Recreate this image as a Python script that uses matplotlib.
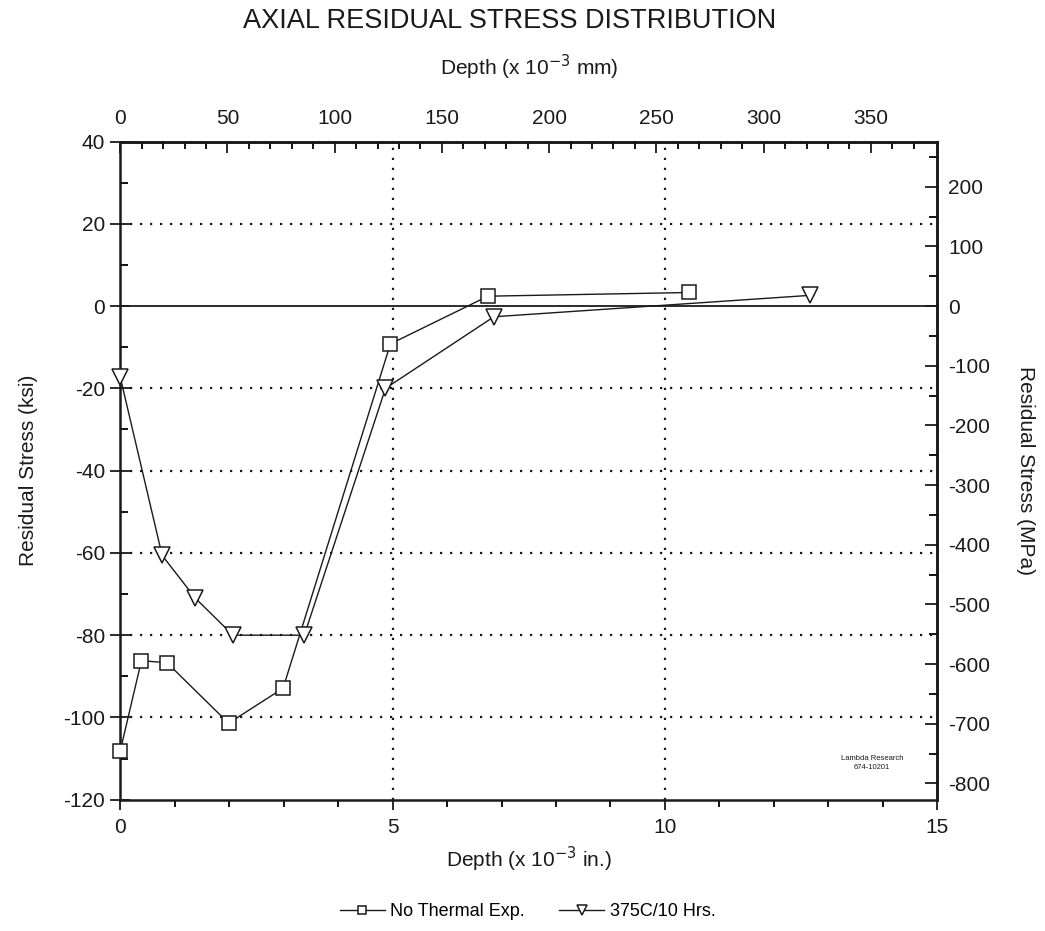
import matplotlib
matplotlib.use("Agg")
import matplotlib.pyplot as plt
import numpy as np
from matplotlib.ticker import MultipleLocator, FixedLocator

plt.rcParams["font.family"] = ["Liberation Sans", "DejaVu Sans"]
plt.rcParams["axes.unicode_minus"] = False

# Depth (x 10^-3 in.) and residual stress (ksi)
depth_nothermal = [0, 0.39, 0.86, 1.99, 2.99, 4.96, 6.75, 10.45]
stress_nothermal = [-108.2, -86.2, -86.7, -101.4, -92.9, -9.2, 2.4, 3.3]
depth_375 = [0, 0.77, 1.38, 2.07, 3.38, 4.87, 6.86, 12.66]
stress_375 = [-17.2, -60.6, -71.0, -80.0, -80.0, -20.0, -2.6, 2.6]

labels = ["No Thermal Exp.", "375C/10 Hrs."]
mm_ticks = [0, 50, 100, 150, 200, 250, 300, 350]
mpa_ticks = [-800, -700, -600, -500, -400, -300, -200, -100, 0, 100, 200]
ink = "#1a1a1a"

fig = plt.figure(figsize=(10.45, 9.31), dpi=100)
ax = fig.add_axes([0.115, 0.141, 0.782, 0.707])

ax.plot(depth_nothermal, stress_nothermal, color=ink, lw=1.0, marker="s",
        ms=10, mfc="white", mec=ink, mew=1.1, label=labels[0], zorder=3,
        clip_on=False)
ax.plot(depth_375, stress_375, color=ink, lw=1.0, marker="v",
        ms=12, mfc="white", mec=ink, mew=1.1, label=labels[1], zorder=3,
        clip_on=False)

ax.set_xlim(0, 15)
ax.set_ylim(-120, 40)

# dotted grid, solid zero line
for y in [20, -20, -40, -60, -80, -100]:
    ax.axhline(y, color=ink, lw=1.6, ls=(0, (1, 3.5)), zorder=1)
for x in [5, 10]:
    ax.axvline(x, color=ink, lw=1.6, ls=(0, (1, 3.5)), zorder=1)
ax.axhline(0, color=ink, lw=1.3, zorder=2)

ax.xaxis.set_major_locator(MultipleLocator(5))
ax.xaxis.set_minor_locator(MultipleLocator(1))
ax.yaxis.set_major_locator(MultipleLocator(20))
ax.yaxis.set_minor_locator(MultipleLocator(10))
ax.tick_params(axis="x", which="major", direction="out", length=7, width=1.3,
               labelsize=15, pad=6, colors=ink)
ax.tick_params(axis="x", which="minor", direction="out", length=5, width=1.3)
ax.tick_params(axis="y", which="major", direction="inout", length=14, width=1.3,
               labelsize=15, pad=4, colors=ink)
ax.tick_params(axis="y", which="minor", direction="in", length=6, width=1.3)
for s in ax.spines.values():
    s.set_linewidth(1.8)
    s.set_color(ink)

ax.set_xlabel("Depth (x 10$^{-3}$ in.)", fontsize=15, color=ink, labelpad=6)
ax.set_ylabel("Residual Stress (ksi)", fontsize=15, color=ink, labelpad=18)

# top axis in mm, right axis in MPa
top = ax.secondary_xaxis("top", functions=(lambda v: v * 25.4, lambda v: v / 25.4))
top.xaxis.set_major_locator(FixedLocator(mm_ticks))
top.xaxis.set_minor_locator(FixedLocator(np.arange(0, 380, 10)))
top.tick_params(which="major", direction="in", length=8, width=1.3,
                labelsize=15, pad=10, colors=ink)
top.tick_params(which="minor", direction="in", length=5, width=1.3)
top.set_xlabel("Depth (x 10$^{-3}$ mm)", fontsize=15, color=ink, labelpad=24)

right = ax.secondary_yaxis("right", functions=(lambda v: v * 6.895, lambda v: v / 6.895))
right.yaxis.set_major_locator(FixedLocator(mpa_ticks))
right.yaxis.set_minor_locator(FixedLocator(np.arange(-800, 251, 50)))
right.tick_params(which="major", direction="in", length=9, width=1.3,
                  labelsize=15, pad=8, colors=ink)
right.tick_params(which="minor", direction="in", length=6, width=1.3)
right.set_ylabel("Residual Stress (MPa)", fontsize=15, color=ink,
                 rotation=270, labelpad=32)
for s in list(top.spines.values()) + list(right.spines.values()):
    s.set_linewidth(1.8)

ax.text(13.8, -111, "Lambda Research\n674-10201", fontsize=5.5, ha="center",
        va="center", color=ink, linespacing=1.4)

fig.text(0.488, 0.977, "AXIAL RESIDUAL STRESS DISTRIBUTION", fontsize=19.5,
         ha="center", va="center", color=ink)

fig.legend(loc="center", bbox_to_anchor=(0.505, 0.021), ncol=2, frameon=False,
           fontsize=13, handlelength=2.5, markerscale=0.6, columnspacing=1.9,
           handletextpad=0.3)

fig.savefig("out.png", dpi=100)
